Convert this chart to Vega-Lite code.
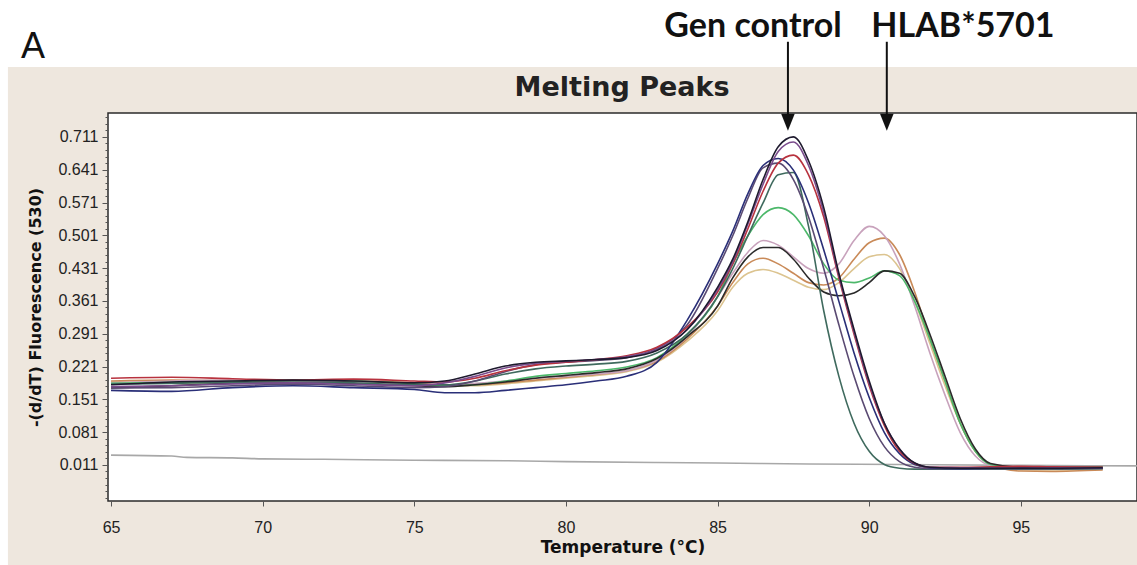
{
  "$schema": "https://vega.github.io/schema/vega-lite/v6.json",
  "width": 1029,
  "height": 388,
  "autosize": {"type": "none"},
  "padding": {"left": 108, "top": 113, "right": 0, "bottom": 64},
  "background": "#EEE7DE",
  "config": {"view": {"fill": "white", "stroke": "#2b2b2b", "strokeWidth": 1.5}},
  "resolve": {"axis": {"y": "independent"}},
  "datasets": {
    "curves": [
      {"s":"N","t":65,"v":0.032},{"s":"N","t":67,"v":0.03},{"s":"N","t":67.5,"v":0.027},{"s":"N","t":69,"v":0.026},{"s":"N","t":70,"v":0.024},{"s":"N","t":72,"v":0.023},{"s":"N","t":75,"v":0.021},{"s":"N","t":78,"v":0.02},{"s":"N","t":80,"v":0.018},{"s":"N","t":83,"v":0.016},{"s":"N","t":85,"v":0.015},{"s":"N","t":88,"v":0.013},{"s":"N","t":91,"v":0.012},{"s":"N","t":95,"v":0.01},{"s":"N","t":98.83,"v":0.009},

      {"s":"P3","t":65,"v":0.188},{"s":"P3","t":67,"v":0.186},{"s":"P3","t":69,"v":0.188},{"s":"P3","t":71,"v":0.19},{"s":"P3","t":73,"v":0.188},{"s":"P3","t":75,"v":0.184},{"s":"P3","t":76,"v":0.18},{"s":"P3","t":77,"v":0.18},{"s":"P3","t":78,"v":0.184},{"s":"P3","t":79,"v":0.19},{"s":"P3","t":80,"v":0.196},{"s":"P3","t":81,"v":0.202},{"s":"P3","t":82,"v":0.21},{"s":"P3","t":83,"v":0.23},{"s":"P3","t":84,"v":0.275},
      {"s":"P3","t":85,"v":0.34},{"s":"P3","t":85.5,"v":0.39},{"s":"P3","t":86,"v":0.42},{"s":"P3","t":86.5,"v":0.428},{"s":"P3","t":87,"v":0.42},{"s":"P3","t":87.5,"v":0.405},{"s":"P3","t":88,"v":0.39},{"s":"P3","t":88.5,"v":0.385},{"s":"P3","t":89,"v":0.4},{"s":"P3","t":89.5,"v":0.43},{"s":"P3","t":90,"v":0.455},{"s":"P3","t":90.5,"v":0.46},{"s":"P3","t":91,"v":0.43},{"s":"P3","t":91.5,"v":0.36},{"s":"P3","t":92,"v":0.27},{"s":"P3","t":92.5,"v":0.18},{"s":"P3","t":93,"v":0.1},{"s":"P3","t":93.5,"v":0.04},{"s":"P3","t":94,"v":0.012},{"s":"P3","t":95,"v":0.001},{"s":"P3","t":96,"v":0.0},{"s":"P3","t":97.7,"v":0.002},

      {"s":"P2","t":65,"v":0.19},{"s":"P2","t":67,"v":0.192},{"s":"P2","t":69,"v":0.19},{"s":"P2","t":71,"v":0.188},{"s":"P2","t":73,"v":0.19},{"s":"P2","t":75,"v":0.186},{"s":"P2","t":76,"v":0.182},{"s":"P2","t":77,"v":0.182},{"s":"P2","t":78,"v":0.186},{"s":"P2","t":79,"v":0.192},{"s":"P2","t":80,"v":0.198},{"s":"P2","t":81,"v":0.204},{"s":"P2","t":82,"v":0.212},{"s":"P2","t":83,"v":0.232},{"s":"P2","t":84,"v":0.28},
      {"s":"P2","t":85,"v":0.35},{"s":"P2","t":85.5,"v":0.4},{"s":"P2","t":86,"v":0.44},{"s":"P2","t":86.5,"v":0.452},{"s":"P2","t":87,"v":0.44},{"s":"P2","t":87.5,"v":0.42},{"s":"P2","t":88,"v":0.4},{"s":"P2","t":88.5,"v":0.395},{"s":"P2","t":89,"v":0.41},{"s":"P2","t":89.5,"v":0.45},{"s":"P2","t":90,"v":0.485},{"s":"P2","t":90.5,"v":0.495},{"s":"P2","t":91,"v":0.46},{"s":"P2","t":91.5,"v":0.38},{"s":"P2","t":92,"v":0.28},{"s":"P2","t":92.5,"v":0.19},{"s":"P2","t":93,"v":0.1},{"s":"P2","t":93.5,"v":0.04},{"s":"P2","t":94,"v":0.012},{"s":"P2","t":95,"v":-0.002},{"s":"P2","t":96,"v":-0.003},{"s":"P2","t":97.7,"v":0.0},

      {"s":"P1","t":65,"v":0.186},{"s":"P1","t":67,"v":0.19},{"s":"P1","t":69,"v":0.192},{"s":"P1","t":71,"v":0.19},{"s":"P1","t":73,"v":0.188},{"s":"P1","t":75,"v":0.184},{"s":"P1","t":76,"v":0.182},{"s":"P1","t":77,"v":0.185},{"s":"P1","t":78,"v":0.19},{"s":"P1","t":79,"v":0.196},{"s":"P1","t":80,"v":0.2},{"s":"P1","t":81,"v":0.205},{"s":"P1","t":82,"v":0.212},{"s":"P1","t":83,"v":0.235},{"s":"P1","t":84,"v":0.285},
      {"s":"P1","t":85,"v":0.37},{"s":"P1","t":85.5,"v":0.42},{"s":"P1","t":86,"v":0.465},{"s":"P1","t":86.5,"v":0.49},{"s":"P1","t":87,"v":0.48},{"s":"P1","t":87.5,"v":0.455},{"s":"P1","t":88,"v":0.43},{"s":"P1","t":88.5,"v":0.42},{"s":"P1","t":89,"v":0.44},{"s":"P1","t":89.5,"v":0.49},{"s":"P1","t":90,"v":0.52},{"s":"P1","t":90.5,"v":0.5},{"s":"P1","t":91,"v":0.44},{"s":"P1","t":91.5,"v":0.35},{"s":"P1","t":92,"v":0.25},{"s":"P1","t":92.5,"v":0.16},{"s":"P1","t":93,"v":0.08},{"s":"P1","t":93.5,"v":0.03},{"s":"P1","t":94,"v":0.01},{"s":"P1","t":95,"v":0.004},{"s":"P1","t":96,"v":0.003},{"s":"P1","t":97.7,"v":0.003},

      {"s":"P4","t":65,"v":0.185},{"s":"P4","t":67,"v":0.187},{"s":"P4","t":69,"v":0.189},{"s":"P4","t":71,"v":0.192},{"s":"P4","t":73,"v":0.19},{"s":"P4","t":75,"v":0.184},{"s":"P4","t":76,"v":0.18},{"s":"P4","t":77,"v":0.182},{"s":"P4","t":78,"v":0.19},{"s":"P4","t":79,"v":0.2},{"s":"P4","t":80,"v":0.206},{"s":"P4","t":81,"v":0.212},{"s":"P4","t":82,"v":0.22},{"s":"P4","t":83,"v":0.24},{"s":"P4","t":84,"v":0.29},
      {"s":"P4","t":85,"v":0.37},{"s":"P4","t":85.5,"v":0.44},{"s":"P4","t":86,"v":0.5},{"s":"P4","t":86.5,"v":0.545},{"s":"P4","t":87,"v":0.56},{"s":"P4","t":87.5,"v":0.545},{"s":"P4","t":88,"v":0.5},{"s":"P4","t":88.5,"v":0.44},{"s":"P4","t":89,"v":0.405},{"s":"P4","t":89.5,"v":0.4},{"s":"P4","t":90,"v":0.41},{"s":"P4","t":90.5,"v":0.425},{"s":"P4","t":91,"v":0.415},{"s":"P4","t":91.5,"v":0.36},{"s":"P4","t":92,"v":0.28},{"s":"P4","t":92.5,"v":0.19},{"s":"P4","t":93,"v":0.1},{"s":"P4","t":93.5,"v":0.04},{"s":"P4","t":94,"v":0.012},{"s":"P4","t":95,"v":0.005},{"s":"P4","t":96,"v":0.005},{"s":"P4","t":97.7,"v":0.006},

      {"s":"P5","t":65,"v":0.175},{"s":"P5","t":67,"v":0.18},{"s":"P5","t":69,"v":0.185},{"s":"P5","t":71,"v":0.186},{"s":"P5","t":73,"v":0.184},{"s":"P5","t":75,"v":0.18},{"s":"P5","t":76,"v":0.178},{"s":"P5","t":77,"v":0.182},{"s":"P5","t":78,"v":0.188},{"s":"P5","t":79,"v":0.196},{"s":"P5","t":80,"v":0.202},{"s":"P5","t":81,"v":0.208},{"s":"P5","t":82,"v":0.216},{"s":"P5","t":83,"v":0.238},{"s":"P5","t":84,"v":0.285},
      {"s":"P5","t":85,"v":0.35},{"s":"P5","t":85.5,"v":0.41},{"s":"P5","t":86,"v":0.455},{"s":"P5","t":86.5,"v":0.475},{"s":"P5","t":87,"v":0.475},{"s":"P5","t":87.5,"v":0.45},{"s":"P5","t":88,"v":0.41},{"s":"P5","t":88.5,"v":0.38},{"s":"P5","t":89,"v":0.372},{"s":"P5","t":89.5,"v":0.378},{"s":"P5","t":90,"v":0.4},{"s":"P5","t":90.5,"v":0.425},{"s":"P5","t":91,"v":0.42},{"s":"P5","t":91.5,"v":0.37},{"s":"P5","t":92,"v":0.29},{"s":"P5","t":92.5,"v":0.2},{"s":"P5","t":93,"v":0.11},{"s":"P5","t":93.5,"v":0.045},{"s":"P5","t":94,"v":0.014},{"s":"P5","t":95,"v":0.006},{"s":"P5","t":96,"v":0.006},{"s":"P5","t":97.7,"v":0.006},

      {"s":"E","t":65,"v":0.183},{"s":"E","t":67,"v":0.185},{"s":"E","t":69,"v":0.187},{"s":"E","t":71,"v":0.188},{"s":"E","t":73,"v":0.186},{"s":"E","t":75,"v":0.182},{"s":"E","t":76,"v":0.182},{"s":"E","t":77,"v":0.19},{"s":"E","t":78,"v":0.205},{"s":"E","t":79,"v":0.216},{"s":"E","t":80,"v":0.222},{"s":"E","t":81,"v":0.226},{"s":"E","t":82,"v":0.232},{"s":"E","t":83,"v":0.25},{"s":"E","t":84,"v":0.29},
      {"s":"E","t":85,"v":0.37},{"s":"E","t":85.5,"v":0.43},{"s":"E","t":86,"v":0.5},{"s":"E","t":86.5,"v":0.57},{"s":"E","t":87,"v":0.63},{"s":"E","t":87.5,"v":0.635},{"s":"E","t":88,"v":0.52},{"s":"E","t":88.5,"v":0.34},{"s":"E","t":89,"v":0.2},{"s":"E","t":89.5,"v":0.1},{"s":"E","t":90,"v":0.04},{"s":"E","t":90.5,"v":0.012},{"s":"E","t":91,"v":0.004},{"s":"E","t":91.5,"v":0.002},{"s":"E","t":92,"v":0.002},{"s":"E","t":93,"v":0.002},{"s":"E","t":94,"v":0.002},{"s":"E","t":95,"v":0.002},{"s":"E","t":96,"v":0.002},{"s":"E","t":97.7,"v":0.003},

      {"s":"D2","t":65,"v":0.175},{"s":"D2","t":67,"v":0.176},{"s":"D2","t":69,"v":0.18},{"s":"D2","t":71,"v":0.183},{"s":"D2","t":73,"v":0.18},{"s":"D2","t":75,"v":0.176},{"s":"D2","t":76,"v":0.178},{"s":"D2","t":77,"v":0.19},{"s":"D2","t":78,"v":0.21},{"s":"D2","t":79,"v":0.225},{"s":"D2","t":80,"v":0.23},{"s":"D2","t":81,"v":0.234},{"s":"D2","t":82,"v":0.24},{"s":"D2","t":83,"v":0.26},{"s":"D2","t":84,"v":0.31},
      {"s":"D2","t":85,"v":0.43},{"s":"D2","t":85.5,"v":0.5},{"s":"D2","t":86,"v":0.58},{"s":"D2","t":86.5,"v":0.645},{"s":"D2","t":87,"v":0.655},{"s":"D2","t":87.5,"v":0.62},{"s":"D2","t":88,"v":0.54},{"s":"D2","t":88.5,"v":0.43},{"s":"D2","t":89,"v":0.31},{"s":"D2","t":89.5,"v":0.2},{"s":"D2","t":90,"v":0.11},{"s":"D2","t":90.5,"v":0.05},{"s":"D2","t":91,"v":0.018},{"s":"D2","t":91.5,"v":0.006},{"s":"D2","t":92,"v":0.003},{"s":"D2","t":93,"v":0.003},{"s":"D2","t":94,"v":0.003},{"s":"D2","t":95,"v":0.003},{"s":"D2","t":96,"v":0.003},{"s":"D2","t":97.7,"v":0.004},

      {"s":"D","t":65,"v":0.17},{"s":"D","t":67,"v":0.168},{"s":"D","t":69,"v":0.176},{"s":"D","t":71,"v":0.18},{"s":"D","t":73,"v":0.176},{"s":"D","t":75,"v":0.172},{"s":"D","t":76,"v":0.165},{"s":"D","t":77,"v":0.165},{"s":"D","t":78,"v":0.17},{"s":"D","t":79,"v":0.176},{"s":"D","t":80,"v":0.182},{"s":"D","t":81,"v":0.19},{"s":"D","t":82,"v":0.2},{"s":"D","t":83,"v":0.23},{"s":"D","t":84,"v":0.32},
      {"s":"D","t":85,"v":0.44},{"s":"D","t":85.5,"v":0.51},{"s":"D","t":86,"v":0.59},{"s":"D","t":86.5,"v":0.65},{"s":"D","t":87,"v":0.665},{"s":"D","t":87.5,"v":0.64},{"s":"D","t":88,"v":0.57},{"s":"D","t":88.5,"v":0.47},{"s":"D","t":89,"v":0.36},{"s":"D","t":89.5,"v":0.25},{"s":"D","t":90,"v":0.155},{"s":"D","t":90.5,"v":0.08},{"s":"D","t":91,"v":0.035},{"s":"D","t":91.5,"v":0.012},{"s":"D","t":92,"v":0.005},{"s":"D","t":93,"v":0.003},{"s":"D","t":94,"v":0.004},{"s":"D","t":95,"v":0.004},{"s":"D","t":96,"v":0.004},{"s":"D","t":97.7,"v":0.004},

      {"s":"C","t":65,"v":0.196},{"s":"C","t":67,"v":0.198},{"s":"C","t":69,"v":0.195},{"s":"C","t":71,"v":0.192},{"s":"C","t":73,"v":0.194},{"s":"C","t":75,"v":0.19},{"s":"C","t":76,"v":0.188},{"s":"C","t":77,"v":0.196},{"s":"C","t":78,"v":0.212},{"s":"C","t":79,"v":0.224},{"s":"C","t":80,"v":0.23},{"s":"C","t":81,"v":0.236},{"s":"C","t":82,"v":0.244},{"s":"C","t":83,"v":0.262},{"s":"C","t":84,"v":0.305},
      {"s":"C","t":85,"v":0.38},{"s":"C","t":85.5,"v":0.44},{"s":"C","t":86,"v":0.515},{"s":"C","t":86.5,"v":0.595},{"s":"C","t":87,"v":0.655},{"s":"C","t":87.5,"v":0.672},{"s":"C","t":88,"v":0.63},{"s":"C","t":88.5,"v":0.54},{"s":"C","t":89,"v":0.41},{"s":"C","t":89.5,"v":0.29},{"s":"C","t":90,"v":0.18},{"s":"C","t":90.5,"v":0.095},{"s":"C","t":91,"v":0.04},{"s":"C","t":91.5,"v":0.014},{"s":"C","t":92,"v":0.006},{"s":"C","t":93,"v":0.006},{"s":"C","t":94,"v":0.007},{"s":"C","t":95,"v":0.008},{"s":"C","t":96,"v":0.007},{"s":"C","t":97.7,"v":0.006},

      {"s":"B","t":65,"v":0.178},{"s":"B","t":67,"v":0.18},{"s":"B","t":69,"v":0.184},{"s":"B","t":71,"v":0.186},{"s":"B","t":73,"v":0.183},{"s":"B","t":75,"v":0.18},{"s":"B","t":76,"v":0.186},{"s":"B","t":77,"v":0.2},{"s":"B","t":78,"v":0.218},{"s":"B","t":79,"v":0.228},{"s":"B","t":80,"v":0.232},{"s":"B","t":81,"v":0.236},{"s":"B","t":82,"v":0.242},{"s":"B","t":83,"v":0.258},{"s":"B","t":84,"v":0.3},
      {"s":"B","t":85,"v":0.385},{"s":"B","t":85.5,"v":0.445},{"s":"B","t":86,"v":0.525},{"s":"B","t":86.5,"v":0.61},{"s":"B","t":87,"v":0.68},{"s":"B","t":87.5,"v":0.7},{"s":"B","t":88,"v":0.65},{"s":"B","t":88.5,"v":0.55},{"s":"B","t":89,"v":0.415},{"s":"B","t":89.5,"v":0.295},{"s":"B","t":90,"v":0.185},{"s":"B","t":90.5,"v":0.1},{"s":"B","t":91,"v":0.045},{"s":"B","t":91.5,"v":0.015},{"s":"B","t":92,"v":0.006},{"s":"B","t":93,"v":0.005},{"s":"B","t":94,"v":0.004},{"s":"B","t":95,"v":0.004},{"s":"B","t":96,"v":0.005},{"s":"B","t":97.7,"v":0.005},

      {"s":"A","t":65,"v":0.182},{"s":"A","t":67,"v":0.188},{"s":"A","t":69,"v":0.19},{"s":"A","t":71,"v":0.192},{"s":"A","t":73,"v":0.19},{"s":"A","t":75,"v":0.186},{"s":"A","t":76,"v":0.19},{"s":"A","t":77,"v":0.205},{"s":"A","t":78,"v":0.222},{"s":"A","t":79,"v":0.23},{"s":"A","t":80,"v":0.233},{"s":"A","t":81,"v":0.236},{"s":"A","t":82,"v":0.24},{"s":"A","t":83,"v":0.255},{"s":"A","t":84,"v":0.3},
      {"s":"A","t":85,"v":0.39},{"s":"A","t":85.5,"v":0.45},{"s":"A","t":86,"v":0.53},{"s":"A","t":86.5,"v":0.62},{"s":"A","t":87,"v":0.69},{"s":"A","t":87.5,"v":0.711},{"s":"A","t":88,"v":0.66},{"s":"A","t":88.5,"v":0.56},{"s":"A","t":89,"v":0.42},{"s":"A","t":89.5,"v":0.3},{"s":"A","t":90,"v":0.19},{"s":"A","t":90.5,"v":0.1},{"s":"A","t":91,"v":0.045},{"s":"A","t":91.5,"v":0.015},{"s":"A","t":92,"v":0.006},{"s":"A","t":93,"v":0.004},{"s":"A","t":94,"v":0.004},{"s":"A","t":95,"v":0.004},{"s":"A","t":96,"v":0.004},{"s":"A","t":97.7,"v":0.005}
    ],
    "bands": [
      {"x1": 60, "x2": 100, "y1": 0.86, "y2": 1.3},
      {"x1": 60, "x2": 61.6, "y1": -0.3, "y2": 1.3}
    ],
    "labels": [
      {"x": 86.17, "y": 0.924, "label": "Gen control"},
      {"x": 93.09, "y": 0.924, "label": "HLAB*5701"}
    ],
    "arrows": [
      {"x": 87.32, "y1": 0.914, "y2": 0.751, "yh": 0.742},
      {"x": 90.58, "y1": 0.914, "y2": 0.751, "yh": 0.742}
    ],
    "heading": [
      {"x": 81.85, "y": 0.816, "label": "Melting Peaks"}
    ],
    "panel": [
      {"x": 62.43, "y": 0.88, "label": "A"}
    ],
    "dummy": [
      {"t": 80, "v": 0.3}
    ]
  },
  "layer": [
    {
      "data": {"name": "bands"},
      "mark": {"type": "rect", "fill": "white", "stroke": null},
      "encoding": {
        "x": {"field": "x1", "type": "quantitative", "scale": {"domain": [64.9, 98.83], "nice": false, "zero": false}},
        "x2": {"field": "x2"},
        "y": {"field": "y1", "type": "quantitative", "scale": {"domain": [-0.066, 0.762], "nice": false, "zero": false}, "axis": null},
        "y2": {"field": "y2"}
      }
    },
    {
      "data": {"name": "dummy"},
      "mark": {"type": "point", "opacity": 0},
      "encoding": {
        "x": {"field": "t", "type": "quantitative", "scale": {"domain": [64.9, 98.83], "nice": false, "zero": false}},
        "y": {"field": "v", "type": "quantitative", "scale": {"domain": [-0.066, 0.762], "nice": false, "zero": false},
          "axis": {"orient": "left", "values": [-0.059, -0.045, -0.031, -0.017, -0.003, 0.025, 0.039, 0.053, 0.067, 0.095, 0.109, 0.123, 0.137, 0.165, 0.179, 0.193, 0.207, 0.235, 0.249, 0.263, 0.277, 0.305, 0.319, 0.333, 0.347, 0.375, 0.389, 0.403, 0.417, 0.445, 0.459, 0.473, 0.487, 0.515, 0.529, 0.543, 0.557, 0.585, 0.599, 0.613, 0.627, 0.655, 0.669, 0.683, 0.697, 0.725, 0.739, 0.753],
            "labels": false, "title": null, "domain": false, "grid": false, "tickSize": 3, "tickColor": "#555555"}}
      }
    },
    {
      "data": {"name": "curves"},
      "mark": {"type": "line", "strokeWidth": 1.6, "interpolate": "monotone", "clip": true},
      "encoding": {
        "x": {"field": "t", "type": "quantitative", "scale": {"domain": [64.9, 98.83], "nice": false, "zero": false},
          "axis": {"values": [65, 70, 75, 80, 85, 90, 95], "title": "Temperature (°C)", "titleFont": "DejaVu Sans", "titleFontSize": 17, "titleFontWeight": "bold", "titleColor": "#111111", "titlePadding": 4,
            "labelFont": "Liberation Sans", "labelFontSize": 16, "labelColor": "#222222", "labelPadding": 13, "tickColor": "#555555", "tickSize": 5, "domain": false, "grid": false}},
        "y": {"field": "v", "type": "quantitative", "scale": {"domain": [-0.066, 0.762], "nice": false, "zero": false},
          "axis": {"orient": "left", "values": [0.011, 0.081, 0.151, 0.221, 0.291, 0.361, 0.431, 0.501, 0.571, 0.641, 0.711], "format": ".3f", "labelOverlap": false, "title": "-(d/dT) Fluorescence (530)", "titleFont": "DejaVu Sans", "titleFontSize": 16, "titleFontWeight": "bold", "titleColor": "#111111", "titlePadding": 14,
            "labelFont": "Liberation Sans", "labelFontSize": 16, "labelColor": "#222222", "labelPadding": 4, "tickColor": "#555555", "tickSize": 6, "domain": false, "grid": false}},
        "color": {"field": "s", "type": "nominal", "legend": null,
          "scale": {"domain": ["N", "P3", "P2", "P1", "P4", "P5", "E", "D2", "D", "C", "B", "A"],
            "range": ["#a8a8a8", "#dcc490", "#c98a58", "#c8a2bc", "#4cb86a", "#2a2a2a", "#3f6a5e", "#5a4a72", "#2a2f78", "#b8323e", "#7a4b8c", "#1e1a2e"]}}
      }
    },
    {
      "data": {"name": "arrows"},
      "mark": {"type": "rule", "stroke": "#111111", "strokeWidth": 2},
      "encoding": {
        "x": {"field": "x", "type": "quantitative", "scale": {"domain": [64.9, 98.83], "nice": false, "zero": false}},
        "y": {"field": "y1", "type": "quantitative", "scale": {"domain": [-0.066, 0.762], "nice": false, "zero": false}, "axis": null},
        "y2": {"field": "y2"}
      }
    },
    {
      "data": {"name": "arrows"},
      "mark": {"type": "point", "shape": "M-0.8,-1L0.8,-1L0,1Z", "filled": true, "fill": "#111111", "stroke": null, "size": 289, "opacity": 1},
      "encoding": {
        "x": {"field": "x", "type": "quantitative", "scale": {"domain": [64.9, 98.83], "nice": false, "zero": false}},
        "y": {"field": "yh", "type": "quantitative", "scale": {"domain": [-0.066, 0.762], "nice": false, "zero": false}, "axis": null}
      }
    },
    {
      "data": {"name": "labels"},
      "mark": {"type": "text", "font": "Lato", "fontSize": 34, "fontWeight": "bold", "color": "#111111", "align": "center", "baseline": "alphabetic"},
      "encoding": {
        "x": {"field": "x", "type": "quantitative", "scale": {"domain": [64.9, 98.83], "nice": false, "zero": false}},
        "y": {"field": "y", "type": "quantitative", "scale": {"domain": [-0.066, 0.762], "nice": false, "zero": false}, "axis": null},
        "text": {"field": "label"}
      }
    },
    {
      "data": {"name": "heading"},
      "mark": {"type": "text", "font": "DejaVu Sans", "fontSize": 27, "fontWeight": "bold", "color": "#222222", "align": "center", "baseline": "middle"},
      "encoding": {
        "x": {"field": "x", "type": "quantitative", "scale": {"domain": [64.9, 98.83], "nice": false, "zero": false}},
        "y": {"field": "y", "type": "quantitative", "scale": {"domain": [-0.066, 0.762], "nice": false, "zero": false}, "axis": null},
        "text": {"field": "label"}
      }
    },
    {
      "data": {"name": "panel"},
      "mark": {"type": "text", "font": "Liberation Sans", "fontSize": 36, "color": "#111111", "align": "center", "baseline": "alphabetic"},
      "encoding": {
        "x": {"field": "x", "type": "quantitative", "scale": {"domain": [64.9, 98.83], "nice": false, "zero": false}},
        "y": {"field": "y", "type": "quantitative", "scale": {"domain": [-0.066, 0.762], "nice": false, "zero": false}, "axis": null},
        "text": {"field": "label"}
      }
    }
  ]
}
